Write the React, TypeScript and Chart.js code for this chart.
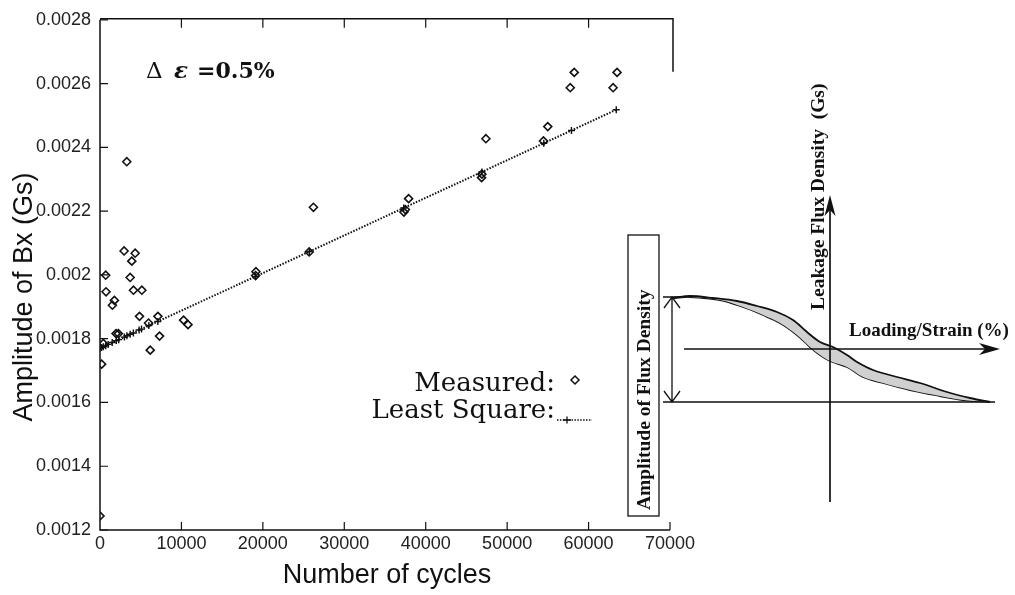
import { useEffect, useRef } from "react";
import { Chart, registerables } from "chart.js";
Chart.register(...registerables);

// ---------- main chart data ----------
const measuredX = [0, 205, 410, 740, 700, 1520, 1770, 1970, 2260, 2960, 3290, 3700, 3905, 4110, 4316, 4850, 5140, 5960, 6170, 7110, 7310, 10270, 10810, 19110, 19150, 25690, 26210, 37320, 37500, 37900, 46860, 46900, 47390, 54460, 54990, 57750, 58240, 63010, 63500];
const measuredY = [0.001244, 0.00172, 0.001785, 0.001947, 0.001999, 0.001905, 0.00192, 0.001816, 0.001816, 0.002075, 0.002355, 0.001992, 0.002043, 0.001952, 0.002068, 0.00187, 0.001952, 0.001849, 0.001764, 0.00187, 0.001808, 0.001858, 0.001844, 0.001998, 0.00201, 0.002072, 0.002212, 0.002197, 0.002205, 0.002239, 0.002305, 0.002316, 0.002427, 0.00242, 0.002465, 0.002587, 0.002635, 0.002587, 0.002635];

const fitX = [0, 200, 400, 700, 1000, 1500, 2000, 2300, 3000, 3300, 3700, 4100, 4800, 5100, 6000, 7100, 19100, 25700, 37300, 46900, 54500, 57900, 63400];
const fitY = [0.00177, 0.001772, 0.001775, 0.001778, 0.001782, 0.001788, 0.001794, 0.001797, 0.001805, 0.001809, 0.001814, 0.001818, 0.001827, 0.00183, 0.001841, 0.001854, 0.001995, 0.002073, 0.00221, 0.002323, 0.002413, 0.002453, 0.002518];

const xTickValues = [0, 10000, 20000, 30000, 40000, 50000, 60000, 70000];
const yTickValues = [0.0012, 0.0014, 0.0016, 0.0018, 0.002, 0.0022, 0.0024, 0.0026, 0.0028];
const xTitle = "Number of cycles";
const yTitle = "Amplitude of Bx (Gs)";
const strainParts = ["Δ", "ε", "=0.5%"];
const legendLabels = ["Measured:", "Least Square:"];

// ---------- inset (schematic) data, in abstract strain / flux units ----------
const loopUpperX = [-0.785, -0.7, -0.585, -0.465, -0.365, -0.265, -0.185, -0.115, -0.05, 0.015, 0.085, 0.135, 0.215, 0.335, 0.45, 0.585, 0.7, 0.8];
const loopUpperY = [0.51, 0.53, 0.51, 0.48, 0.43, 0.37, 0.29, 0.17, 0.07, 0.02, -0.06, -0.13, -0.21, -0.28, -0.34, -0.43, -0.49, -0.53];
const loopLowerX = [-0.785, -0.7, -0.55, -0.435, -0.335, -0.25, -0.165, -0.1, -0.05, 0.0, 0.085, 0.165, 0.265, 0.4, 0.55, 0.665, 0.8];
const loopLowerY = [0.51, 0.52, 0.49, 0.42, 0.34, 0.26, 0.14, 0.02, -0.06, -0.12, -0.18, -0.28, -0.34, -0.41, -0.47, -0.51, -0.53];
const insetLabels = ["Amplitude of Flux Density", "Leakage Flux Density  (Gs)", "Loading/Strain (%)"];

const INK = "#111";

const mainDecor = {
  id: "mainDecor",
  afterDraw(chart: any) {
    const { ctx, chartArea: a, scales } = chart;
    const xs = scales.x, ys = scales.y;
    ctx.save();
    ctx.strokeStyle = INK;
    ctx.lineWidth = 1.5;
    // frame
    ctx.beginPath();
    ctx.moveTo(a.left, a.top);
    ctx.lineTo(a.left, a.bottom);
    ctx.lineTo(a.right, a.bottom);
    ctx.moveTo(a.left, a.top - 1);
    ctx.lineTo(a.right + 3, a.top - 1);
    ctx.lineTo(a.right + 3, a.top + 52);
    ctx.stroke();
    // inward ticks
    ctx.lineWidth = 1.2;
    ctx.beginPath();
    for (const v of xTickValues) {
      const px = xs.getPixelForValue(v);
      if (v > 0) {
        ctx.moveTo(px, a.bottom);
        ctx.lineTo(px, a.bottom - 8);
      }
      if (v > 0 && v < 70000) {
        ctx.moveTo(px, a.top - 1);
        ctx.lineTo(px, a.top + 8);
      }
    }
    for (const v of yTickValues) {
      const py = ys.getPixelForValue(v);
      ctx.moveTo(a.left, py);
      ctx.lineTo(a.left + 8, py);
    }
    ctx.stroke();

    // axis titles
    ctx.fillStyle = INK;
    ctx.font = '27px "Liberation Sans", Arial, sans-serif';
    ctx.textAlign = "center";
    ctx.textBaseline = "alphabetic";
    ctx.fillText(xTitle, (a.left + a.right) / 2 + 2, 583);
    ctx.save();
    ctx.translate(32, 297);
    ctx.rotate(-Math.PI / 2);
    ctx.fillText(yTitle, 0, 0);
    ctx.restore();

    // delta epsilon annotation
    ctx.textAlign = "left";
    ctx.font = '23px "DejaVu Serif", serif';
    ctx.fillText(strainParts[0], 146, 78);
    ctx.font = 'italic bold 23px "DejaVu Serif", serif';
    ctx.fillText(strainParts[1], 174, 78);
    ctx.font = 'bold 22px "DejaVu Serif", serif';
    ctx.fillText(strainParts[2], 197, 78);

    // legend
    ctx.textAlign = "right";
    ctx.font = '26px "DejaVu Serif", serif';
    ctx.fillText(legendLabels[0], 555, 391);
    ctx.fillText(legendLabels[1], 555, 418);
    // diamond
    ctx.lineWidth = 1.5;
    ctx.beginPath();
    ctx.moveTo(575, 376);
    ctx.lineTo(579, 380);
    ctx.lineTo(575, 384);
    ctx.lineTo(571, 380);
    ctx.closePath();
    ctx.stroke();
    // line sample
    ctx.lineWidth = 1.5;
    ctx.setLineDash([1.5, 1.4]);
    ctx.beginPath();
    ctx.moveTo(557, 420);
    ctx.lineTo(592, 420);
    ctx.stroke();
    ctx.setLineDash([]);
    ctx.lineWidth = 1.3;
    ctx.beginPath();
    ctx.moveTo(563, 420);
    ctx.lineTo(571, 420);
    ctx.moveTo(567, 416.5);
    ctx.lineTo(567, 423.5);
    ctx.stroke();
    ctx.restore();
  },
};

const insetDecor = {
  id: "insetDecor",
  afterDatasetsDraw(chart: any) {
    const { ctx, scales } = chart;
    const X = (v: number) => scales.x.getPixelForValue(v);
    const Y = (v: number) => scales.y.getPixelForValue(v);
    ctx.save();
    ctx.strokeStyle = INK;
    ctx.fillStyle = INK;
    ctx.lineWidth = 1.7;
    // horizontal axis
    ctx.beginPath();
    ctx.moveTo(X(-0.73), Y(0));
    ctx.lineTo(X(0.83), Y(0));
    ctx.stroke();
    const hx = X(0.85), hy = Y(0);
    ctx.beginPath();
    ctx.moveTo(hx, hy);
    ctx.lineTo(hx - 21, hy - 6);
    ctx.lineTo(hx - 15, hy);
    ctx.lineTo(hx - 21, hy + 6);
    ctx.closePath();
    ctx.fill();
    // vertical axis
    ctx.beginPath();
    ctx.moveTo(X(0), Y(-1.53));
    ctx.lineTo(X(0), Y(1.45));
    ctx.stroke();
    const vx = X(0), vy = Y(1.54);
    ctx.beginPath();
    ctx.moveTo(vx, vy);
    ctx.lineTo(vx - 5.5, vy + 21);
    ctx.lineTo(vx, vy + 15);
    ctx.lineTo(vx + 5.5, vy + 21);
    ctx.closePath();
    ctx.fill();
    // level lines
    ctx.lineWidth = 1.5;
    ctx.beginPath();
    ctx.moveTo(X(-0.835), Y(-0.53));
    ctx.lineTo(X(0.825), Y(-0.53));
    ctx.moveTo(X(-0.835), Y(0.52));
    ctx.lineTo(X(-0.74), Y(0.52));
    ctx.stroke();
    // double arrow
    const dx = X(-0.79), dt = Y(0.52), db = Y(-0.53);
    ctx.lineWidth = 1.3;
    ctx.beginPath();
    ctx.moveTo(dx, dt);
    ctx.lineTo(dx, db);
    ctx.moveTo(dx - 8, dt + 11);
    ctx.lineTo(dx, dt);
    ctx.lineTo(dx + 8, dt + 11);
    ctx.moveTo(dx - 8, db - 11);
    ctx.lineTo(dx, db);
    ctx.lineTo(dx + 8, db - 11);
    ctx.stroke();
    // box
    ctx.lineWidth = 1.3;
    ctx.strokeRect(X(-1.01), Y(1.14), X(-0.855) - X(-1.01), Y(-1.67) - Y(1.14));
    // texts
    ctx.textBaseline = "alphabetic";
    ctx.textAlign = "left";
    ctx.font = 'bold 19.5px "Liberation Serif", "Times New Roman", serif';
    ctx.save();
    ctx.translate(X(-0.9), Y(-1.61));
    ctx.rotate(-Math.PI / 2);
    ctx.fillText(insetLabels[0], 0, 0);
    ctx.restore();
    ctx.save();
    ctx.translate(X(-0.03), Y(0.39));
    ctx.rotate(-Math.PI / 2);
    ctx.fillText(insetLabels[1], 0, 0);
    ctx.restore();
    ctx.font = 'bold 19px "Liberation Serif", "Times New Roman", serif';
    ctx.fillText(insetLabels[2], X(0.095), Y(0.13));
    ctx.restore();
  },
};

export default function App() {
  const mainRef = useRef<HTMLCanvasElement>(null);
  const insetRef = useRef<HTMLCanvasElement>(null);

  useEffect(() => {
    const tickFont = { family: '"Liberation Sans", Arial, sans-serif', size: 18 };
    const main = new Chart(mainRef.current as HTMLCanvasElement, {
      type: "scatter",
      data: {
        datasets: [
          {
            label: "Measured",
            data: measuredX.map((x, i) => ({ x, y: measuredY[i] })),
            showLine: false,
            pointStyle: "rectRot",
            pointRadius: 4,
            pointBorderWidth: 1.6,
            borderColor: INK,
            backgroundColor: "rgba(0,0,0,0)",
            order: 1,
          },
          {
            label: "Least Square",
            data: fitX.map((x, i) => ({ x, y: fitY[i] })),
            showLine: true,
            borderColor: INK,
            borderWidth: 2,
            borderDash: [1.5, 1.5],
            pointStyle: "cross",
            pointRadius: 3.5,
            pointBorderWidth: 1.4,
            pointBorderColor: INK,
            backgroundColor: INK,
            fill: false,
            order: 2,
          },
        ],
      },
      options: {
        animation: false,
        responsive: false,
        devicePixelRatio: 1,
        events: [],
        layout: { padding: { left: 0, top: 15, right: 345, bottom: 0 } },
        plugins: { legend: { display: false }, tooltip: { enabled: false } },
        scales: {
          x: {
            type: "linear",
            min: 0,
            max: 70000,
            afterBuildTicks: (s: any) => {
              s.ticks = xTickValues.map((v) => ({ value: v }));
            },
            afterFit: (s: any) => {
              s.height = 65;
            },
            grid: { display: false, drawTicks: false },
            border: { display: false },
            ticks: {
              padding: 3,
              color: "#222",
              font: tickFont,
              maxRotation: 0,
              autoSkip: false,
              callback: (v: any) => String(v),
            },
          },
          y: {
            type: "linear",
            min: 0.0012,
            max: 0.0028,
            afterBuildTicks: (s: any) => {
              s.ticks = yTickValues.map((v) => ({ value: v }));
            },
            afterFit: (s: any) => {
              s.width = 100;
            },
            grid: { display: false, drawTicks: false },
            border: { display: false },
            ticks: {
              padding: 9,
              color: "#222",
              font: tickFont,
              autoSkip: false,
              callback: (v: any) => String(Number(Number(v).toFixed(4))),
            },
          },
        },
      },
      plugins: [mainDecor],
    } as any);

    const inset = new Chart(insetRef.current as HTMLCanvasElement, {
      type: "scatter",
      data: {
        datasets: [
          {
            label: "upper",
            data: loopUpperX.map((x, i) => ({ x, y: loopUpperY[i] })),
            showLine: true,
            borderColor: INK,
            borderWidth: 1.8,
            pointRadius: 0,
            tension: 0.35,
            fill: "+1",
            backgroundColor: "#d0d0d0",
          },
          {
            label: "lower",
            data: loopLowerX.map((x, i) => ({ x, y: loopLowerY[i] })),
            showLine: true,
            borderColor: INK,
            borderWidth: 1.8,
            pointRadius: 0,
            tension: 0.35,
            fill: false,
          },
        ],
      },
      options: {
        animation: false,
        responsive: false,
        devicePixelRatio: 1,
        events: [],
        layout: { padding: 0 },
        plugins: { legend: { display: false }, tooltip: { enabled: false } },
        scales: {
          x: { type: "linear", min: -1.15, max: 0.925, display: false },
          y: { type: "linear", min: -1.81, max: 2.89, display: false },
        },
      },
      plugins: [insetDecor],
    } as any);

    return () => {
      main.destroy();
      inset.destroy();
    };
  }, []);

  return (
    <div style={{ position: "absolute", left: 0, top: 0, width: 1015, height: 595, background: "#fff" }}>
      <canvas ref={mainRef} width={1015} height={595} style={{ position: "absolute", left: 0, top: 0, width: 1015, height: 595 }} />
      <canvas ref={insetRef} width={415} height={470} style={{ position: "absolute", left: 600, top: 60, width: 415, height: 470 }} />
    </div>
  );
}
